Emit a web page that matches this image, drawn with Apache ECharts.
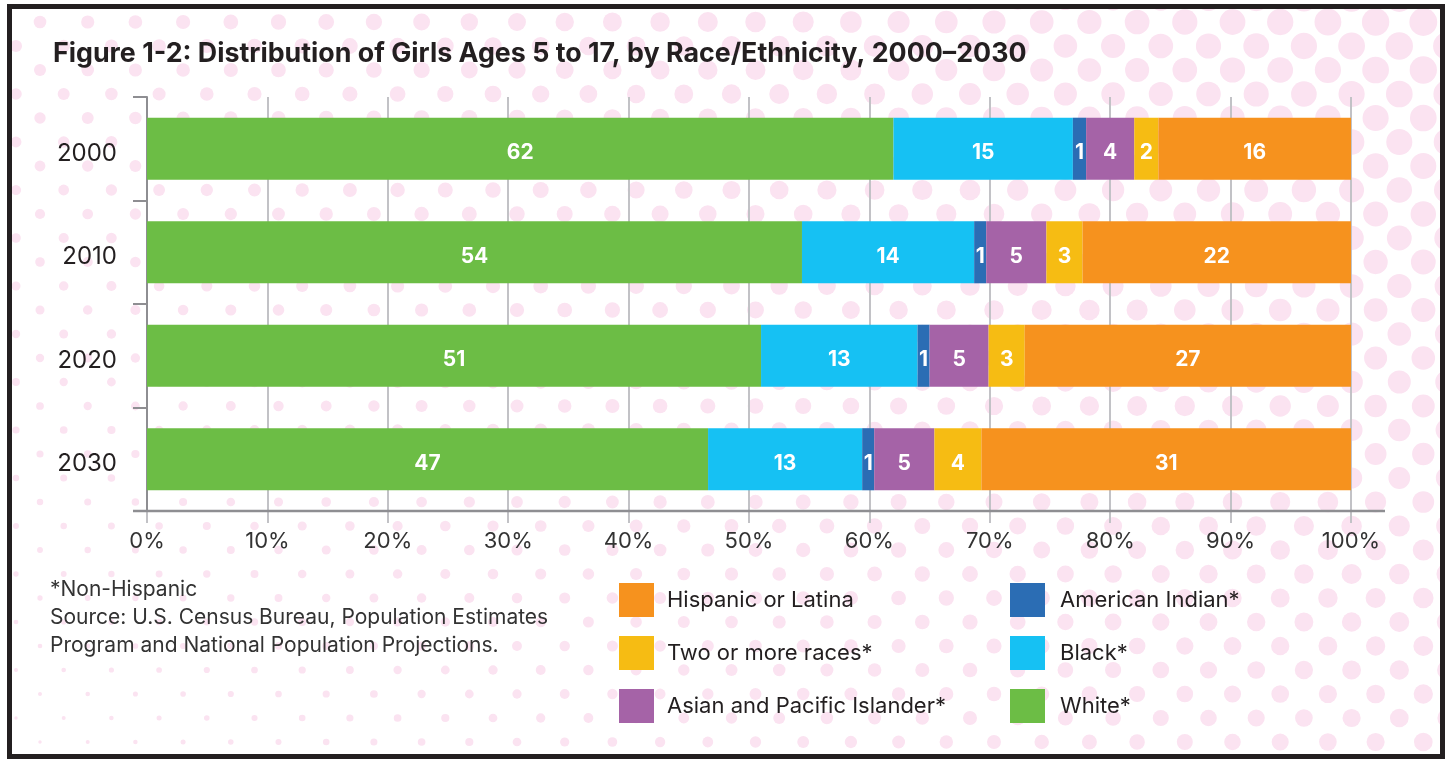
<!DOCTYPE html>
<html>
<head>
<meta charset="utf-8">
<script src="https://cdn.jsdelivr.net/npm/echarts@6/dist/echarts.min.js"></script>
<style>
  body { margin: 0; background: #fff; }
  #wrap { position: relative; width: 1449px; height: 759px; }
  #bg, #main { position: absolute; left: 0; top: 0; width: 1449px; height: 759px; }
</style>
</head>
<body>
<div id="wrap">
  <canvas id="bg" width="1449" height="759"></canvas>
  <div id="main"></div>
</div>
<script>
// data
var years = ['2000', '2010', '2020', '2030'];
var white = [62.0, 54.4, 51.0, 46.6];
var black = [14.9, 14.3, 13.0, 12.8];
var amIndian = [1.1, 1.0, 1.0, 1.0];
var asian = [4.0, 5.0, 4.9, 5.0];
var twoOrMore = [2.0, 3.0, 3.0, 3.9];
var hispanic = [16.0, 22.3, 27.1, 30.7];
var xTicks = [0, 10, 20, 30, 40, 50, 60, 70, 80, 90, 100];

var fontFam = 'Inter, Lato, sans-serif';

// polka dot background + frame
function drawBackground() {
    var ctx = document.getElementById('bg').getContext('2d');
    ctx.fillStyle = '#fff';
    ctx.fillRect(0, 0, 1449, 759);
    ctx.save();
    ctx.beginPath();
    ctx.rect(10, 7, 1433, 749);
    ctx.clip();
    ctx.fillStyle = '#fbe3f1';
    for (var n = -1; n < 33; n++) {
        var y = 22 + n * 24;
        var x0 = (n % 2 === 0) ? 40 : 16;
        for (var k = -1; k < 32; k++) {
            var x = x0 + k * 47.7;
            var d = 12.5 - 0.0128 * y + 0.011 * x;
            if (d < 1.5) d = 1.5;
            ctx.beginPath();
            ctx.arc(x, y, d / 2, 0, Math.PI * 2);
            ctx.fill();
        }
    }
    ctx.restore();
    ctx.strokeStyle = '#231f20';
    ctx.lineWidth = 5;
    ctx.strokeRect(9.5, 6.5, 1433, 750);
}
drawBackground();

var gridTop = 97, gridHeight = 414, gridLeft = 147, gridRight = 98;

function barSeries(name, data, color) {
    return {
        name: name,
        type: 'bar',
        stack: 'total',
        barWidth: '60%',
        data: data,
        itemStyle: {color: color},
        label: {
            show: true,
            position: 'inside',
            offset: [0, 4],
            color: '#fff',
            fontFamily: fontFam,
            fontWeight: 'bold',
            fontSize: 21,
            formatter: function (p) { return Math.round(p.value); }
        }
    };
}

var chart = echarts.init(document.getElementById('main'));
var option = {
    backgroundColor: 'transparent',
    animation: false,
    title: [{
        text: 'Figure 1-2: Distribution of Girls Ages 5 to 17, by Race/Ethnicity, 2000\u20132030',
        left: 48,
        top: 35,
        textStyle: {fontFamily: fontFam, fontWeight: 'bold', fontSize: 26.8, color: '#231f20'}
    }, {
        text: '*Non-Hispanic\nSource: U.S. Census Bureau, Population Estimates\nProgram and National Population Projections.',
        left: 45,
        top: 571,
        textStyle: {fontFamily: fontFam, fontWeight: 'normal', fontSize: 21, lineHeight: 28, color: '#333'}
    }],
    legend: [{
        orient: 'vertical',
        left: 619,
        top: 583,
        padding: 0,
        itemWidth: 35,
        itemHeight: 34,
        itemGap: 19,
        icon: 'rect',
        selectedMode: false,
        data: ['Hispanic or Latina', 'Two or more races*', 'Asian and Pacific Islander*'],
        textStyle: {fontFamily: fontFam, fontSize: 22, color: '#231f20', padding: [0, 0, 0, 8]}
    }, {
        orient: 'vertical',
        left: 1010,
        top: 583,
        padding: 0,
        itemWidth: 35,
        itemHeight: 34,
        itemGap: 19,
        icon: 'rect',
        selectedMode: false,
        data: ['American Indian*', 'Black*', 'White*'],
        textStyle: {fontFamily: fontFam, fontSize: 22, color: '#231f20', padding: [0, 0, 0, 10]}
    }],
    grid: {left: gridLeft, right: gridRight, top: gridTop, height: gridHeight, containLabel: false},
    xAxis: {
        type: 'value',
        min: 0,
        max: 100,
        interval: 10,
        axisLine: {show: false},
        axisTick: {show: true, length: 12, lineStyle: {color: '#c2c2c6', width: 2}},
        splitLine: {show: true, lineStyle: {color: '#c2c2c6', width: 2}},
        axisLabel: {
            margin: 19,
            fontFamily: fontFam,
            fontSize: 22,
            color: '#333',
            formatter: function (v) { return xTicks.indexOf(v) >= 0 ? v + '%' : ''; }
        }
    },
    yAxis: {
        type: 'category',
        inverse: true,
        data: years,
        axisLine: {show: true, lineStyle: {color: '#8e8e92', width: 2}},
        axisTick: {show: true, length: 14, lineStyle: {color: '#8e8e92', width: 2}},
        axisLabel: {
            margin: 30,
            formatter: function (v) { return '{y|' + v + '}'; },
            rich: {
                y: {fontFamily: fontFam, fontSize: 24, color: '#231f20', padding: [10, 0, 0, 0]}
            }
        }
    },
    series: [
        barSeries('White*', white, '#6cbd45'),
        barSeries('Black*', black, '#16c1f3'),
        barSeries('American Indian*', amIndian, '#2b6db4'),
        barSeries('Asian and Pacific Islander*', asian, '#a563a7'),
        barSeries('Two or more races*', twoOrMore, '#f6bc13'),
        barSeries('Hispanic or Latina', hispanic, '#f6921e')
    ],
    graphic: [{
        type: 'line',
        shape: {x1: 133, y1: gridTop + gridHeight, x2: 1385, y2: gridTop + gridHeight},
        style: {stroke: '#8e8e92', lineWidth: 2.5},
        z: 10
    }]
};
chart.setOption(option);
</script>
</body>
</html>
